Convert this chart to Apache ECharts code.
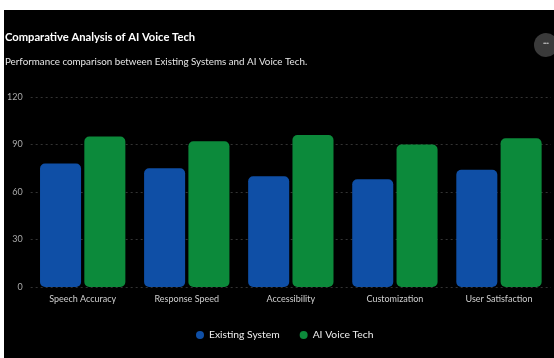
<!DOCTYPE html>
<html>
<head>
<meta charset="utf-8">
<script src="https://cdn.jsdelivr.net/npm/echarts@6/dist/echarts.min.js"></script>
<style>
html,body{margin:0;padding:0;background:#fff;width:554px;height:358px;overflow:hidden;}
#chart{position:absolute;left:4px;top:10px;width:550px;height:348px;background:#000;}
</style>
</head>
<body>
<div id="chart"></div>
<script>
var categories = ['Speech Accuracy', 'Response Speed', 'Accessibility', 'Customization', 'User Satisfaction'];
var existingSystem = [78, 75, 70, 68, 74];
var aiVoiceTech = [95, 92, 96, 90, 94];
var seriesNames = ['Existing System', 'AI Voice Tech'];
var titleText = 'Comparative Analysis of AI Voice Tech';
var subtitleText = 'Performance comparison between Existing Systems and AI Voice Tech.';

var FONT = "Lato, 'Open Sans', sans-serif";
var chart = echarts.init(document.getElementById('chart'), null, {renderer: 'canvas'});
chart.setOption({
  backgroundColor: '#000',
  animation: false,
  textStyle: {fontFamily: FONT},
  title: [
    {text: titleText, left: 1, top: 22, padding: 0, textStyle: {color: '#fff', fontSize: 11.2, fontWeight: 'bold', fontFamily: FONT}},
    {text: subtitleText, left: 1, top: 47, padding: 0, textStyle: {color: '#e6e6e6', fontSize: 9.8, fontWeight: 'normal', fontFamily: FONT}}
  ],
  grid: {left: 26, right: 3, top: 87, bottom: 71, containLabel: false},
  legend: {
    data: seriesNames, bottom: 13, left: 187, icon: 'circle', itemWidth: 8, itemHeight: 8, itemGap: 20,
    textStyle: {color: '#eee', fontSize: 10.3, fontFamily: FONT}
  },
  xAxis: {
    type: 'category', data: categories,
    axisLine: {show: false}, axisTick: {show: false},
    axisLabel: {color: '#cfcfcf', fontSize: 9, margin: 8, fontFamily: FONT}
  },
  yAxis: {
    type: 'value', min: 0, max: 120, interval: 30,
    axisLine: {show: false}, axisTick: {show: false},
    axisLabel: {color: '#aaa', fontSize: 9, margin: 8, fontFamily: FONT},
    splitLine: {lineStyle: {color: '#333', type: [2, 3], width: 1}}
  },
  series: [
    {name: seriesNames[0], type: 'bar', data: existingSystem, barGap: '8%', barCategoryGap: '18%',
     itemStyle: {color: '#0f4fa6', borderRadius: 5}},
    {name: seriesNames[1], type: 'bar', data: aiVoiceTech,
     itemStyle: {color: '#0c8a3b', borderRadius: 5}}
  ],
  graphic: [
    {type: 'circle', shape: {cx: 542, cy: 35, r: 12}, style: {fill: '#3a3a3a'}},
    {type: 'text', x: 542, y: 34, style: {text: '•••', fill: '#ddd', fontSize: 5, align: 'center', verticalAlign: 'middle'}}
  ]
});
</script>
</body>
</html>
